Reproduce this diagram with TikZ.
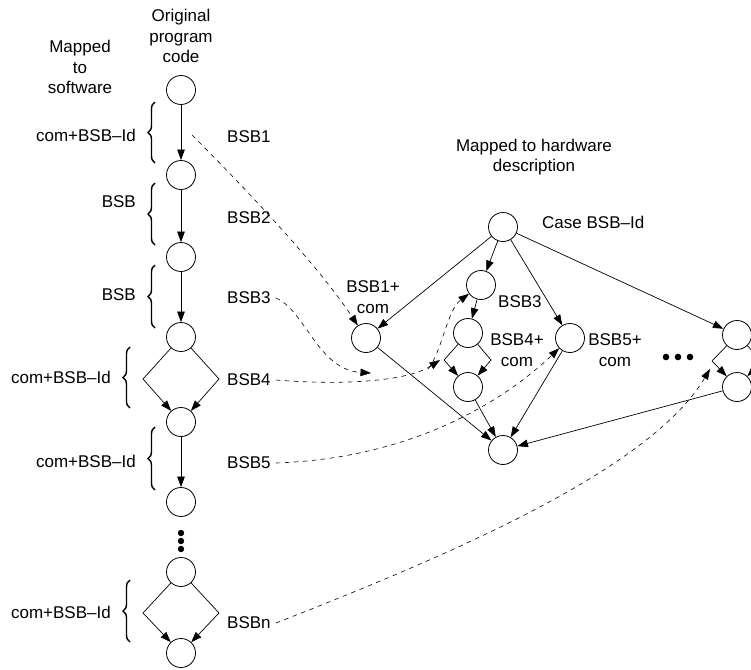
\documentclass[tikz,border=0pt]{standalone}
\usepackage{fontspec}
\setmainfont{Liberation Sans}
\usepackage{tikz}
\usetikzlibrary{
  arrows.meta,
  positioning,
  calc,
  decorations.pathreplacing
}
\definecolor{SketchInk}{HTML}{000000}

\begin{document}
\begin{tikzpicture}[x=1pt,y=-1pt,
    every node/.style={font=\fontsize{17}{20.5}\selectfont,inner sep=1pt},
    blk/.style={draw=SketchInk,circle,minimum size=29pt,inner sep=0pt,line width=0.8pt},
    flow/.style={draw=SketchInk,line width=0.7pt,-{Triangle[length=10.5pt,width=7.5pt]}},
    link/.style={draw=SketchInk,line width=0.6pt,dash pattern=on 4.5pt off 4.5pt,-{Triangle[length=10.5pt,width=7.5pt]}},
    grp/.style={draw=SketchInk,line width=1.4pt,decorate,decoration={brace,amplitude=7pt}},
    txt/.style={align=center}
  ]
  \useasboundingbox (0,0) rectangle (751,669);

  % headings
  \node[txt] (hdcode) at (181,36) {Original\\program\\code};
  \node[txt] (hdsw) at (80,67) {Mapped\\to\\software};
  \node[txt] (hdhw) at (534,157) {Mapped to hardware\\description};

  % original program code
  \node[blk] (s0) at (181,90) {};
  \node[blk] (s1) at (181,175) {};
  \node[blk] (s2) at (181,257) {};
  \node[blk] (s3) at (181,337) {};
  \node[blk] (s4) at (181,422) {};
  \node[blk] (s5) at (181,502) {};
  \node[blk] (s6) at (181,572) {};
  \node[blk] (s7) at (181,653) {};

  \draw[flow] (s0) -- (s1);
  \draw[flow] (s1) -- (s2);
  \draw[flow] (s2) -- (s3);
  \coordinate (d3l) at (143,379);
  \coordinate (d3r) at (219,379);
  \draw[flow] (s3) -- (d3l) -- (s4);
  \draw[flow] (s3) -- (d3r) -- (s4);
  \draw[flow] (s4) -- (s5);
  \foreach \yy in {533,541,549}
    \fill[SketchInk] (181,\yy) circle (3.2pt);
  \coordinate (d6l) at (143,613);
  \coordinate (d6r) at (219,613);
  \draw[flow] (s6) -- (d6l) -- (s7);
  \draw[flow] (s6) -- (d6r) -- (s7);

  % software side
  \draw[grp] (155,163) -- (155,102);
  \draw[grp] (155,245) -- (155,183);
  \draw[grp] (155,328) -- (155,265);
  \draw[grp] (130,408) -- (130,347);
  \draw[grp] (155,490) -- (155,427);
  \draw[grp] (130,642) -- (130,580);
  \node[anchor=east] (g1) at (137,135) {com+BSB\textendash Id};
  \node[anchor=east] (g2) at (137,202) {BSB};
  \node[anchor=east] (g3) at (137,295) {BSB};
  \node[anchor=east] (g4) at (112,377) {com+BSB\textendash Id};
  \node[anchor=east] (g5) at (137,461) {com+BSB\textendash Id};
  \node[anchor=east] (g6) at (112,612) {com+BSB\textendash Id};

  \node[anchor=west] (t1) at (226,137) {BSB1};
  \node[anchor=west] (t2) at (226,218) {BSB2};
  \node[anchor=west] (t3) at (226,298) {BSB3};
  \node[anchor=west] (t4) at (226,380) {BSB4};
  \node[anchor=west] (t5) at (226,463) {BSB5};
  \node[anchor=west] (tn) at (226,623) {BSBn};

  % hardware side
  \node[blk] (cs) at (503,227) {};
  \node[anchor=west] (cslab) at (541,222) {Case BSB\textendash Id};
  \node[blk] (h1) at (366,338) {};
  \node[txt] (h1lab) at (373,297) {BSB1+\\com};
  \node[blk] (h3) at (481,285) {};
  \node[anchor=west] (h3lab) at (497,302) {BSB3};
  \node[blk] (h4a) at (468,333) {};
  \node[blk] (h4b) at (468,387) {};
  \node[txt] (h4lab) at (517,350) {BSB4+\\com};
  \node[blk] (h5) at (570,338) {};
  \node[txt] (h5lab) at (615,350) {BSB5+\\com};
  \node[blk] (hna) at (737,335) {};
  \node[blk] (hnb) at (737,387) {};
  \node[blk] (hend) at (503,450) {};
  \foreach \xx in {666,678,690}
    \fill[SketchInk] (\xx,357) circle (3.3pt);

  \draw[flow] (cs) -- (h1);
  \draw[flow] (cs) -- (h3);
  \draw[flow] (cs) -- (h5);
  \draw[flow] (cs) -- (hna);
  \draw[flow] (h3) -- (h4a);
  \coordinate (d4l) at (444,360);
  \coordinate (d4r) at (491,360);
  \draw[flow] (h4a) -- (d4l) -- (h4b);
  \draw[flow] (h4a) -- (d4r) -- (h4b);
  \coordinate (dnl) at (712,361);
  \coordinate (dnr) at (762,361);
  \draw[flow] (hna) -- (dnl) -- (hnb);
  \draw[flow] (hna) -- (dnr) -- (hnb);
  \draw[flow] (h1) -- (hend);
  \draw[flow] (h4b) -- (hend);
  \draw[flow] (h5) -- (hend);
  \draw[flow] (hnb) -- (hend);

  % mapping
  \coordinate (lk1) at (192,135);
  \draw[link] (lk1) .. controls (250,193) and (320,268) .. (h1);
  \coordinate (lk3) at (371,373);
  \draw[link] ([xshift=4pt]t3.east) .. controls (305,310) and (318,370) .. (lk3);
  \coordinate (lk4) at (440,360);
  \draw[link] ([xshift=4pt]t4.east) .. controls (350,386) and (410,380) .. (lk4);
  \coordinate (lk4b) at (428,369);
  \draw[link] (lk4b) .. controls (442,352) and (447,310) .. (h3);
  \draw[link] ([xshift=4pt]t5.east) .. controls (420,458) and (510,395) .. (h5);
  \coordinate (lkn) at (710,369);
  \draw[link] ([xshift=4pt]tn.east) .. controls (450,555) and (650,470) .. (lkn);
\end{tikzpicture}
\end{document}
